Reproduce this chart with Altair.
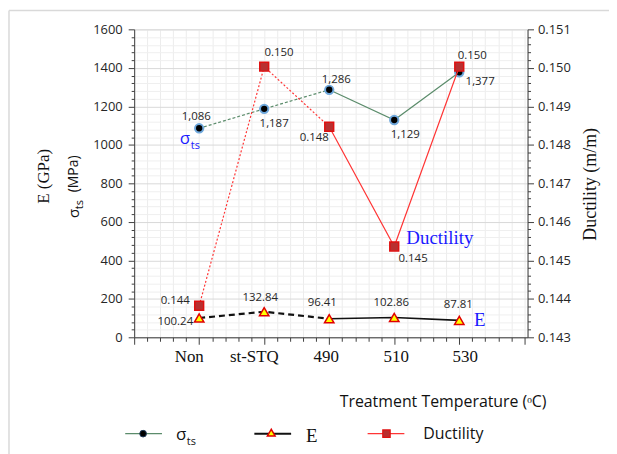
import altair as alt
import pandas as pd

# ---------------- data ----------------
categories = ["Non", "st-STQ", "490", "510", "530"]
positions = [1, 2, 3, 4, 5]
sigma_ts = [1086, 1187, 1286, 1129, 1377]
e_modulus = [100.24, 132.84, 96.41, 102.86, 87.81]
ductility = [0.14382, 0.15003, 0.14847, 0.14536, 0.15003]

df = pd.DataFrame({"pos": positions, "cat": categories, "sigma": sigma_ts,
                   "E": e_modulus, "duct": ductility})
one = pd.DataFrame({"a": [0]})

W, H = 396, 310
FONT = "Open Sans"
SERIF = "Liberation Serif"

# label offsets (px) per point (style only)
sig_off = [(-3, -11), (10, 15), (7, -10), (11, 15), (21, 10)]
duct_off = [(-24, -5), (15, -14), (-15, 11), (19, 13), (13, -11)]
e_off = [(-24, 4), (-4, -14), (-7, -16), (-3, -15), (-1, -15)]
cat_off = [-10, -10, -3, 2, 6]

x_ticks = [round(i * 0.2, 1) for i in range(31)]
y_ticks = list(range(0, 1601, 40))
r_ticks = [round(0.143 + i * 0.0002, 4) for i in range(41)]

x_axis = alt.Axis(values=x_ticks, labels=False, title=None, grid=True,
                  gridColor="#ececec", domainColor="#404040", tickColor="#404040",
                  tickSize={"condition": {"test": "abs(datum.value - round(datum.value)) < 0.01", "value": 7}, "value": 4})
X = alt.X("pos:Q", scale=alt.Scale(domain=[0, 6.05], nice=False, zero=False), axis=x_axis)

left_axis = alt.Axis(values=y_ticks, title=None, grid=True,
                     labelExpr="datum.value % 200 === 0 ? datum.value : ''",
                     gridColor={"condition": {"test": "datum.value % 200 === 0", "value": "#d9d9d9"}, "value": "#efefef"},
                     tickSize={"condition": {"test": "datum.value % 200 === 0", "value": 6}, "value": 3},
                     labelFont=FONT, labelFontSize=13, labelColor="#262626", labelPadding=6,
                     domainColor="#404040", tickColor="#404040")
left_scale = alt.Scale(domain=[0, 1600], nice=False, zero=True)

right_axis = alt.Axis(values=r_ticks, title=None, grid=False, orient="right",
                      labelExpr="abs(datum.value*1000 - round(datum.value*1000)) < 0.01 ? format(datum.value, '.3f') : ''",
                      tickSize={"condition": {"test": "abs(datum.value*1000 - round(datum.value*1000)) < 0.01", "value": 6}, "value": 3},
                      labelFont=FONT, labelFontSize=13, labelColor="#262626", labelPadding=4,
                      domainColor="#404040", tickColor="#404040")
right_scale = alt.Scale(domain=[0.143, 0.151], nice=False, zero=False)


def YL(field):
    return alt.Y(f"{field}:Q", scale=left_scale, axis=left_axis)


def YR():
    return alt.Y("duct:Q", scale=right_scale, axis=right_axis)


base = alt.Chart(df)
dash_part = "datum.pos <= 3"
solid_part = "datum.pos >= 3"

SIG_COL = "#5b8c6b"
RED = "#ff3535"

left_layers = [
    # sigma lines
    base.transform_filter(dash_part).mark_line(color=SIG_COL, strokeWidth=1.2, strokeDash=[3, 2]).encode(x=X, y=YL("sigma")),
    base.transform_filter(solid_part).mark_line(color=SIG_COL, strokeWidth=1.2).encode(x=X, y=YL("sigma")),
    # E lines
    base.transform_filter(dash_part).mark_line(color="#111111", strokeWidth=2.2, strokeDash=[6, 4]).encode(x=X, y=YL("E")),
    base.transform_filter(solid_part).mark_line(color="#111111", strokeWidth=1.6).encode(x=X, y=YL("E")),
    # markers
    base.mark_point(shape="circle", filled=True, fill="#000000", stroke="#6fa8dc", strokeWidth=2,
                    size=70, opacity=1).encode(x=X, y=YL("sigma")),
    base.mark_point(shape="triangle-up", filled=True, fill="#ffff00", stroke="#e00000", strokeWidth=1.5,
                    size=90, opacity=1).encode(x=X, y=YL("E")),
]

for i in range(5):
    f = f"datum.pos === {i + 1}"
    left_layers.append(
        base.transform_filter(f).mark_text(font=FONT, fontSize=11.5, color="#262626",
                                           dx=sig_off[i][0], dy=sig_off[i][1])
        .encode(x=X, y=YL("sigma"), text=alt.Text("sigma:Q", format=",.0f")))
    left_layers.append(
        base.transform_filter(f).mark_text(font=FONT, fontSize=11.5, color="#262626",
                                           dx=e_off[i][0], dy=e_off[i][1])
        .encode(x=X, y=YL("E"), text=alt.Text("E:Q", format=".2f")))
    left_layers.append(
        base.transform_filter(f).mark_text(font=SERIF, fontSize=17, color="#111111", dx=cat_off[i])
        .encode(x=X, y=alt.value(330), text="cat:N"))

right_layers = [
    base.transform_filter(dash_part).mark_line(color=RED, strokeWidth=1.2, strokeDash=[2, 2]).encode(x=X, y=YR()),
    base.transform_filter(solid_part).mark_line(color=RED, strokeWidth=1.2).encode(x=X, y=YR()),
    base.mark_point(shape="square", filled=True, fill="#b83030", stroke="#e01010", strokeWidth=1.5,
                    size=80, opacity=1).encode(x=X, y=YR()),
]
for i in range(5):
    f = f"datum.pos === {i + 1}"
    right_layers.append(
        base.transform_filter(f).mark_text(font=FONT, fontSize=11.5, color="#262626",
                                           dx=duct_off[i][0], dy=duct_off[i][1])
        .encode(x=X, y=YR(), text=alt.Text("duct:Q", format=".3f")))

left = alt.layer(*left_layers)
right = alt.layer(*right_layers)

# ---------------- annotations, titles, legend ----------------
ann = alt.Chart(one)


def txt(s, x, y, **kw):
    return ann.mark_text(text=s, **kw).encode(x=alt.value(x), y=alt.value(y))


BLUE = "#1a1aff"
deco = [
    # in-plot labels
    txt("σ", 46, 110, font=FONT, fontSize=17, color=BLUE, align="left", baseline="middle"),
    txt("ts", 57, 117, font=FONT, fontSize=11, color=BLUE, align="left", baseline="middle"),
    txt("Ductility", 274, 210, font=SERIF, fontSize=19, color=BLUE, align="left", baseline="middle"),
    txt("E", 342, 293, font=SERIF, fontSize=19, color=BLUE, align="left", baseline="middle"),
    # left axis titles
    txt("E (GPa)", -91, 148, font=SERIF, fontSize=17, color="#111111", angle=270, align="center", baseline="middle"),
    txt("σ", -61, 190, font=FONT, fontSize=15, color="#111111", angle=270, align="left", baseline="middle"),
    txt("ts", -55, 181, font=FONT, fontSize=11, color="#111111", angle=270, align="left", baseline="middle"),
    txt("(MPa)", -61, 164, font=FONT, fontSize=14, color="#111111", angle=270, align="left", baseline="middle"),
    # right axis title
    txt("Ductility (m/m)", 460, 156, font=SERIF, fontSize=18, color="#111111", angle=270, align="center", baseline="middle"),
    # x title
    txt("Treatment Temperature (ᵒC)", 311, 375, font=FONT, fontSize=16, color="#111111", align="center", baseline="middle"),
    # legend
    ann.mark_rule(color=SIG_COL, strokeWidth=1.2).encode(x=alt.value(-9), x2=alt.value(28), y=alt.value(407)),
    ann.mark_point(shape="circle", filled=True, fill="#000000", stroke="#1f3b5b", strokeWidth=1, size=45, opacity=1)
    .encode(x=alt.value(9), y=alt.value(407)),
    txt("σ", 42, 408, font=FONT, fontSize=17, color="#111111", align="left", baseline="middle"),
    txt("ts", 53, 415, font=FONT, fontSize=11, color="#111111", align="left", baseline="middle"),
    ann.mark_rule(color="#111111", strokeWidth=2).encode(x=alt.value(121), x2=alt.value(158), y=alt.value(407)),
    ann.mark_point(shape="triangle-up", filled=True, fill="#ffff00", stroke="#e00000", strokeWidth=1.5, size=60, opacity=1)
    .encode(x=alt.value(138), y=alt.value(406)),
    txt("E", 173, 409, font=SERIF, fontSize=19, color="#111111", align="left", baseline="middle"),
    ann.mark_rule(color=RED, strokeWidth=1.2).encode(x=alt.value(235), x2=alt.value(272), y=alt.value(407)),
    ann.mark_point(shape="square", filled=True, fill="#b83030", stroke="#e01010", strokeWidth=1.2, size=55, opacity=1)
    .encode(x=alt.value(254), y=alt.value(407)),
    txt("Ductility", 291, 407, font=FONT, fontSize=16, color="#111111", align="left", baseline="middle"),
    # chart-area border (top and left edges only, as in the reference)
    ann.mark_rule(color="#d9d9d9", strokeWidth=1.5).encode(x=alt.value(-126), x2=alt.value(480), y=alt.value(-19)),
    ann.mark_rule(color="#d9d9d9", strokeWidth=1.5).encode(x=alt.value(-126), y=alt.value(-19), y2=alt.value(430)),
]

chart = (
    alt.layer(left, right, *deco)
    .resolve_scale(y="independent")
    .properties(width=W, height=H,
                autosize=alt.AutoSizeParams(type="none"),
                padding={"left": 127, "top": 20, "right": 82, "bottom": 116})
    .configure_view(stroke="#404040", strokeWidth=1)
    .configure(background="white")
)

chart.save("out.html", embed_options={"renderer": "svg", "actions": False})
